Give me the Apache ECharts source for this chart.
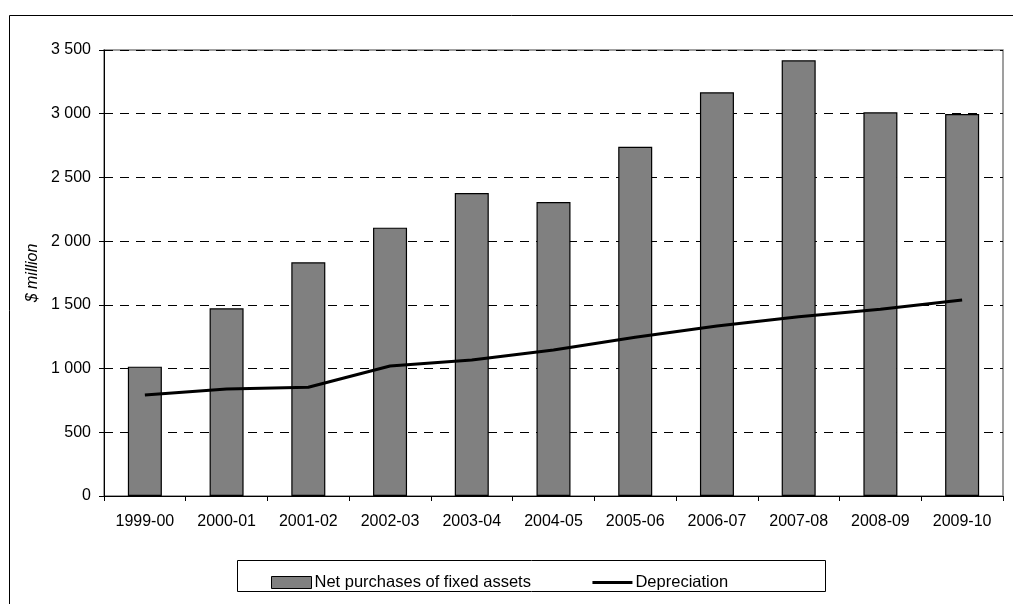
<!DOCTYPE html>
<html>
<head>
<meta charset="utf-8">
<style>
  html, body { margin: 0; padding: 0; background: #fff; }
  #chart { width: 1013px; height: 604px; }
</style>
<script src="https://cdn.jsdelivr.net/npm/echarts@6/dist/echarts.min.js"></script>
</head>
<body>
<div id="chart"></div>
<script>
// Financial years on the category axis
const years = ['1999-00', '2000-01', '2001-02', '2002-03', '2003-04', '2004-05',
               '2005-06', '2006-07', '2007-08', '2008-09', '2009-10'];

// Net purchases of fixed assets, $ million
const netPurchases = [1015, 1473, 1834, 2106, 2378, 2307, 2741, 3168, 3419, 3011, 2998];

// Depreciation, $ million
const depreciation = [793, 840, 853, 1020, 1067, 1146, 1245, 1334, 1407, 1465, 1538];

// Value axis range and step
const yMin = 0;
const yMax = 3500;
const yStep = 500;

const FONT = '"Liberation Sans", Arial, sans-serif';

// Thousands grouped with a space, e.g. 3 500
function groupThousands(v) {
  return String(v).replace(/\B(?=(\d{3})+(?!\d))/g, ' ');
}

const chart = echarts.init(document.getElementById('chart'), null, { renderer: 'canvas' });

chart.setOption({
  animation: false,
  backgroundColor: '#ffffff',
  textStyle: { fontFamily: FONT },
  grid: {
    left: 104, right: 10, top: 50, bottom: 108, containLabel: false,
    // grey frame round the plot area
    show: true, borderColor: '#808080', borderWidth: 1.5, backgroundColor: 'transparent'
  },
  graphic: [
    // outer chart frame
    { type: 'rect', silent: true, z: -1,
      shape: { x: 9.5, y: 15.5, width: 1200, height: 800 },
      style: { fill: 'none', stroke: '#000', lineWidth: 1 } },
    // legend frame
    { type: 'rect', silent: true,
      shape: { x: 237.5, y: 560.5, width: 588, height: 31 },
      style: { fill: '#fff', stroke: '#000', lineWidth: 1 } }
  ],
  legend: {
    left: 266,
    top: 569,
    itemWidth: 40,
    itemHeight: 12,
    itemGap: 60,
    textStyle: { fontFamily: FONT, fontSize: 16.5, color: '#000', padding: [0, 0, 0, -2] },
    data: [
      { name: 'Net purchases of fixed assets', icon: 'rect',
        itemStyle: { color: '#808080', borderColor: '#000', borderWidth: 1 } },
      { name: 'Depreciation',
        itemStyle: { opacity: 0 },
        lineStyle: { color: '#000', width: 3 } }
    ]
  },
  xAxis: {
    type: 'category',
    data: years,
    boundaryGap: true,
    axisLine: { show: true, lineStyle: { color: '#000', width: 1 } },
    axisTick: { show: true, alignWithLabel: false, length: 5, lineStyle: { color: '#000' } },
    axisLabel: { color: '#000', fontSize: 16, fontFamily: FONT, margin: 18 }
  },
  yAxis: {
    type: 'value',
    min: yMin,
    max: yMax,
    interval: yStep,
    name: '$ million',
    nameLocation: 'middle',
    nameRotate: 90,
    nameGap: 62,
    nameTextStyle: { fontFamily: FONT, fontSize: 16, fontStyle: 'italic', color: '#000' },
    axisLine: { show: true, lineStyle: { color: '#000', width: 1 } },
    axisTick: { show: true, length: 5, lineStyle: { color: '#000' } },
    axisLabel: { color: '#000', fontSize: 16, fontFamily: FONT, margin: 13,
                 formatter: groupThousands },
    splitLine: { show: true, lineStyle: { color: '#000', width: 1, type: [9, 7] } }
  },
  series: [
    {
      name: 'Net purchases of fixed assets',
      type: 'bar',
      data: netPurchases,
      barWidth: 34,
      itemStyle: { color: '#808080', borderColor: '#000', borderWidth: 1.2 },
      z: 2
    },
    {
      name: 'Depreciation',
      type: 'line',
      data: depreciation,
      symbol: 'none',
      lineStyle: { color: '#000', width: 3 },
      itemStyle: { color: '#000' },
      z: 3
    }
  ]
});
</script>
</body>
</html>
